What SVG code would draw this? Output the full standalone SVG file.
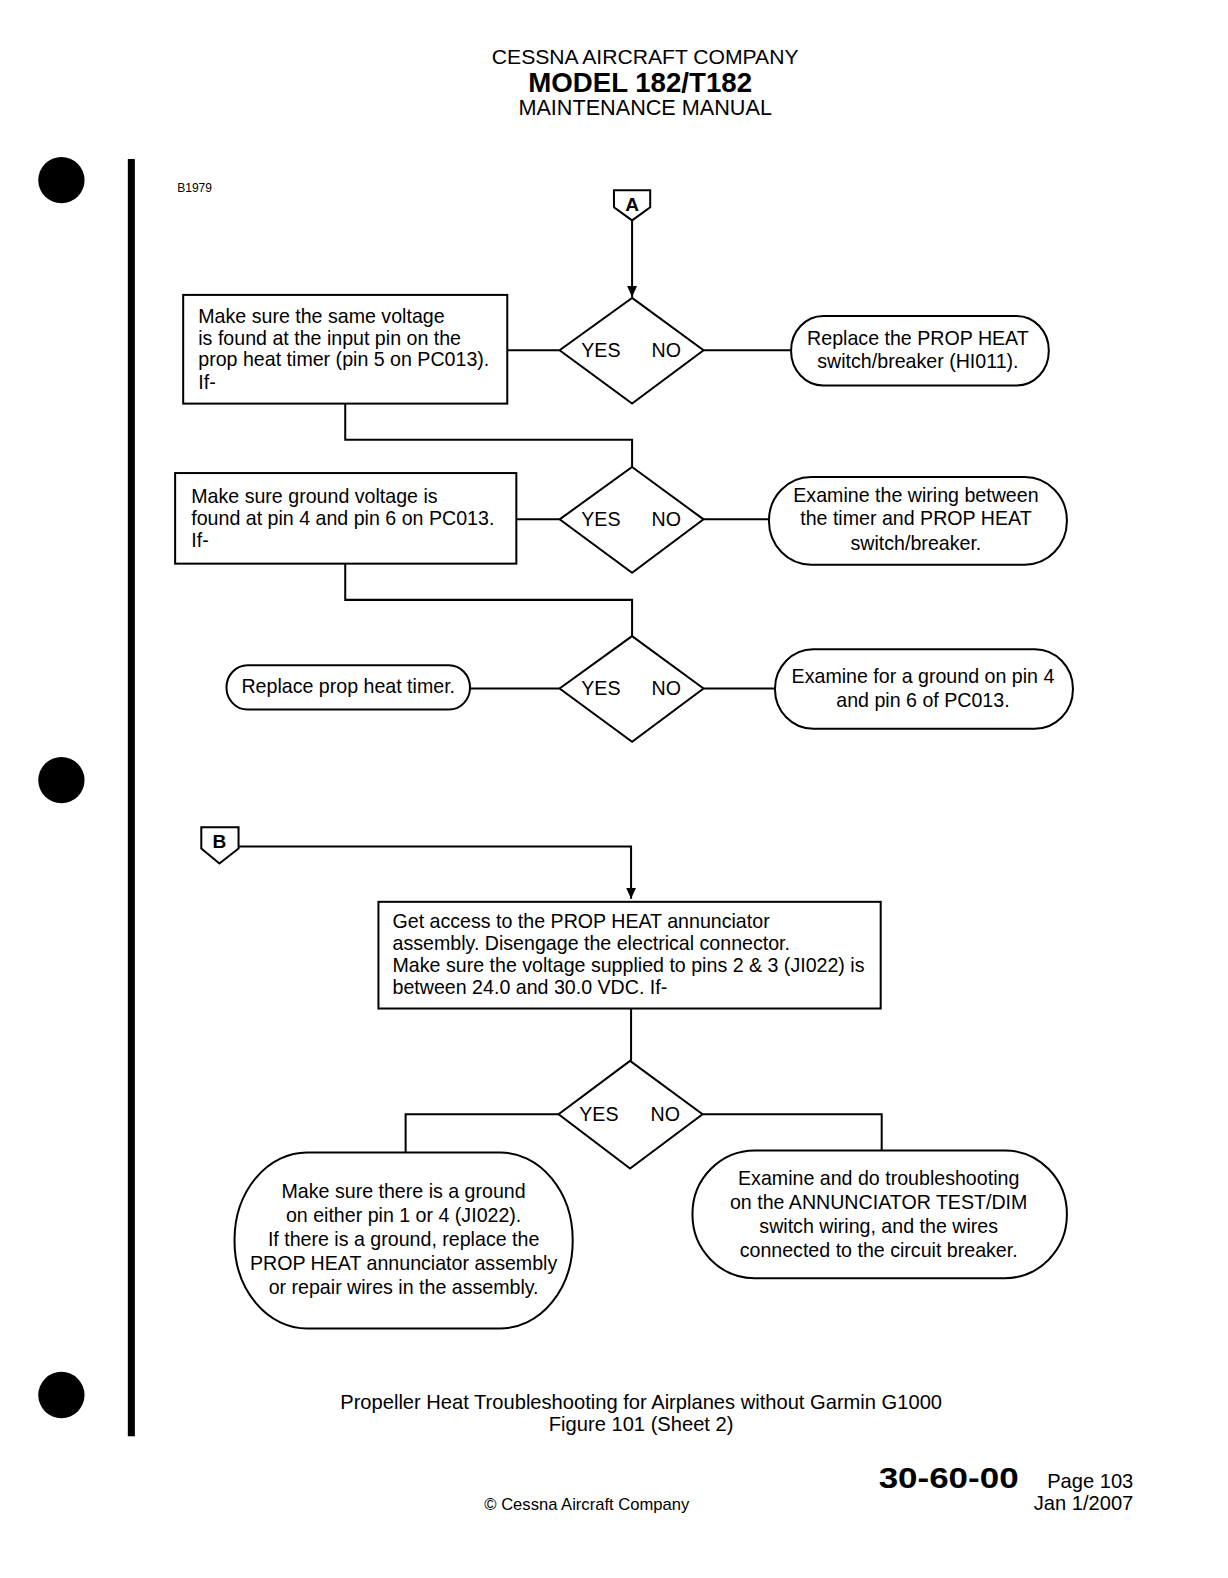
<svg xmlns="http://www.w3.org/2000/svg" width="1228" height="1578" viewBox="0 0 1228 1578">
<defs>
<style>
text{font-family:"Liberation Sans",Arial,sans-serif;fill:#000}
.t{font-size:19.5px}
.c{text-anchor:middle}
.shape{fill:#fff;stroke:#000;stroke-width:2}
.ln{fill:none;stroke:#000;stroke-width:2}
</style>
<marker id="arr" markerWidth="12" markerHeight="12" refX="11" refY="5" orient="auto" markerUnits="userSpaceOnUse">
<path d="M0,0 L11,5 L0,10 Z" fill="#000"/>
</marker>
</defs>
<rect width="1228" height="1578" fill="#fff"/>
<g id="diagram" transform="scale(1.0065)">

<g id="page">
<circle cx="61" cy="179" r="23" fill="#000"/>
<circle cx="61" cy="775" r="23" fill="#000"/>
<circle cx="61" cy="1386" r="23" fill="#000"/>
<rect x="127" y="158" width="7" height="1269" fill="#000"/>
<text x="641" y="63.5" font-size="21" text-anchor="middle">CESSNA AIRCRAFT COMPANY</text>
<text x="636" y="91" font-size="27.5" font-weight="bold" text-anchor="middle">MODEL 182/T182</text>
<text x="641" y="114" font-size="21.5" text-anchor="middle">MAINTENANCE MANUAL</text>
<text x="176" y="191" font-size="12">B1979</text>
<text x="637" y="1400" font-size="20" text-anchor="middle">Propeller Heat Troubleshooting for Airplanes without Garmin G1000</text>
<text x="637" y="1422" font-size="20" text-anchor="middle">Figure 101 (Sheet 2)</text>
<text x="873" y="1478" font-size="30" font-weight="bold" textLength="139" lengthAdjust="spacingAndGlyphs">30-60-00</text>
<text x="1126" y="1478" font-size="20" text-anchor="end">Page 103</text>
<text x="1126" y="1500" font-size="20" text-anchor="end">Jan 1/2007</text>
<text x="583" y="1500" font-size="16.5" text-anchor="middle">© Cessna Aircraft Company</text>
</g>

<g id="connectors">
<line class="ln" x1="628" y1="219" x2="628" y2="295" marker-end="url(#arr)"/>
<line class="ln" x1="504" y1="348" x2="556" y2="348"/>
<line class="ln" x1="699" y1="348" x2="786" y2="348"/>
<polyline class="ln" points="343,401 343,437 628,437 628,464"/>
<line class="ln" x1="513" y1="516" x2="556" y2="516"/>
<line class="ln" x1="699" y1="516" x2="764" y2="516"/>
<polyline class="ln" points="343,560 343,596 628,596 628,632"/>
<line class="ln" x1="467" y1="684" x2="556" y2="684"/>
<line class="ln" x1="699" y1="684" x2="770" y2="684"/>
<polyline class="ln" points="237,841 627,841 627,893" marker-end="url(#arr)"/>
<line class="ln" x1="627" y1="1002" x2="627" y2="1054"/>
<polyline class="ln" points="555,1107 403,1107 403,1145"/>
<polyline class="ln" points="698,1107 876,1107 876,1143"/>
</g>

<g id="connA">
<path class="shape" d="M610,189 L646,189 L646,206 L628,219 L610,206 Z"/>
<text x="628" y="210" font-size="19" font-weight="bold" text-anchor="middle">A</text>
</g>

<g id="box1">
<rect class="shape" x="182" y="293" width="322" height="108"/>
<text class="t" x="197" y="321">Make sure the same voltage</text>
<text class="t" x="197" y="343">is found at the input pin on the</text>
<text class="t" x="197" y="364">prop heat timer (pin 5 on PC013).</text>
<text class="t" x="197" y="386">If-</text>
</g>

<g id="dec1">
<path class="shape" d="M628,296 L699,348 L628,401 L556,348 Z"/>
<text class="t c" x="597" y="355">YES</text>
<text class="t c" x="662" y="355">NO</text>
</g>

<g id="end1">
<rect class="shape" x="786" y="314" width="256" height="69" rx="32" ry="34"/>
<text class="t c" x="912" y="343">Replace the PROP HEAT</text>
<text class="t c" x="912" y="366">switch/breaker (HI011).</text>
</g>

<g id="box2">
<rect class="shape" x="174" y="470" width="339" height="90"/>
<text class="t" x="190" y="500">Make sure ground voltage is</text>
<text class="t" x="190" y="522">found at pin 4 and pin 6 on PC013.</text>
<text class="t" x="190" y="543">If-</text>
</g>

<g id="dec2">
<path class="shape" d="M628,464 L699,516 L628,569 L556,516 Z"/>
<text class="t c" x="597" y="523">YES</text>
<text class="t c" x="662" y="523">NO</text>
</g>

<g id="end2">
<rect class="shape" x="764" y="474" width="296" height="87" rx="42" ry="43"/>
<text class="t c" x="910" y="499">Examine the wiring between</text>
<text class="t c" x="910" y="522">the timer and PROP HEAT</text>
<text class="t c" x="910" y="546">switch/breaker.</text>
</g>

<g id="dec3">
<path class="shape" d="M628,632 L699,684 L628,737 L556,684 Z"/>
<text class="t c" x="597" y="691">YES</text>
<text class="t c" x="662" y="691">NO</text>
</g>

<g id="end3">
<rect class="shape" x="225" y="661" width="242" height="44" rx="21" ry="22"/>
<text class="t c" x="346" y="689">Replace prop heat timer.</text>
</g>

<g id="end4">
<rect class="shape" x="770" y="645" width="296" height="79" rx="38" ry="39"/>
<text class="t c" x="917" y="679">Examine for a ground on pin 4</text>
<text class="t c" x="917" y="702">and pin 6 of PC013.</text>
</g>

<g id="connB">
<path class="shape" d="M200,822 L237,822 L237,843 L218,858 L200,843 Z"/>
<text x="218" y="843" font-size="19" font-weight="bold" text-anchor="middle">B</text>
</g>

<g id="boxB">
<rect class="shape" x="376" y="896" width="499" height="106"/>
<text class="t" x="390" y="922">Get access to the PROP HEAT annunciator</text>
<text class="t" x="390" y="944">assembly. Disengage the electrical connector.</text>
<text class="t" x="390" y="966">Make sure the voltage supplied to pins 2 &amp; 3 (JI022) is</text>
<text class="t" x="390" y="988">between 24.0 and 30.0 VDC.  If-</text>
</g>

<g id="dec4">
<path class="shape" d="M626,1054 L698,1107 L626,1161 L555,1107 Z"/>
<text class="t c" x="595" y="1114">YES</text>
<text class="t c" x="661" y="1114">NO</text>
</g>

<g id="end5">
<rect class="shape" x="233" y="1145" width="336" height="175" rx="72" ry="87"/>
<text class="t c" x="401" y="1190">Make sure there is a ground</text>
<text class="t c" x="401" y="1214">on either pin 1 or 4 (JI022).</text>
<text class="t c" x="401" y="1238">If there is a ground, replace the</text>
<text class="t c" x="401" y="1262">PROP HEAT annunciator assembly</text>
<text class="t c" x="401" y="1286">or repair wires in the assembly.</text>
</g>

<g id="end6">
<rect class="shape" x="688" y="1143" width="372" height="127" rx="62" ry="63"/>
<text class="t c" x="873" y="1177">Examine and do troubleshooting</text>
<text class="t c" x="873" y="1201">on the ANNUNCIATOR TEST/DIM</text>
<text class="t c" x="873" y="1225">switch wiring, and the wires</text>
<text class="t c" x="873" y="1249">connected to the circuit breaker.</text>
</g>
</g>
</svg>
